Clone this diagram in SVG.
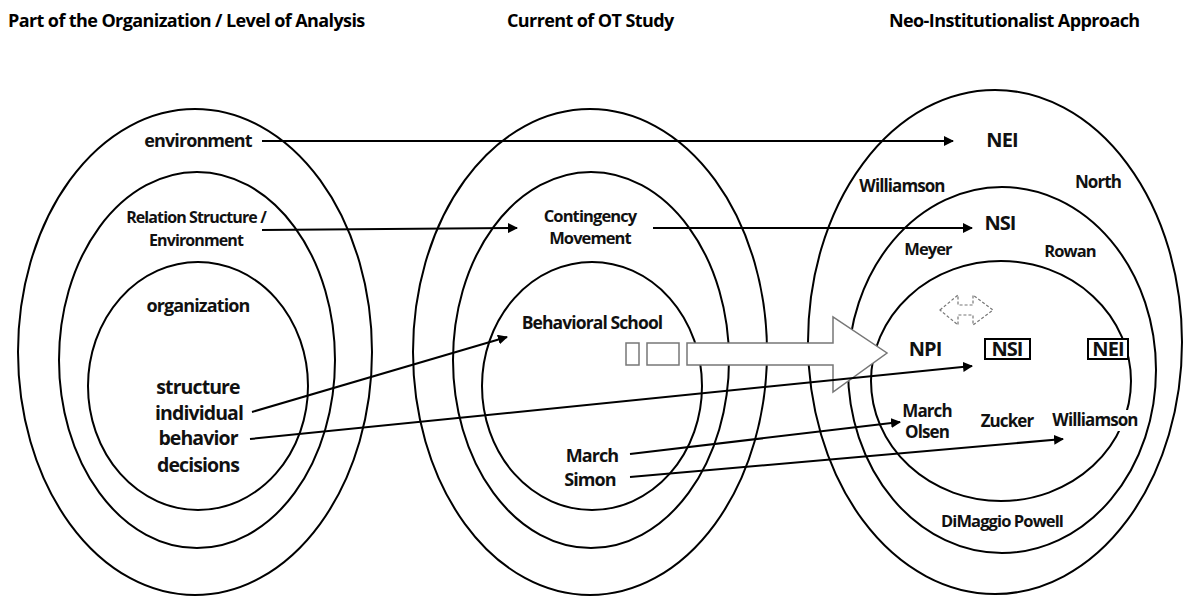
<svg xmlns="http://www.w3.org/2000/svg" width="1195" height="597" viewBox="0 0 1195 597">
<defs>
<marker id="ah" viewBox="0 0 10 10" refX="9" refY="5" markerWidth="5" markerHeight="5" orient="auto" markerUnits="strokeWidth">
<path d="M0,0 L10,5 L0,10 z" fill="#000"/>
</marker>
<style>
.ring{fill:none;stroke:#000;stroke-width:2}
.t{font-family:"Open Sans","Liberation Sans",sans-serif;font-weight:700;fill:#111;text-anchor:middle;letter-spacing:-0.9px}
.h{font-family:"Open Sans","Liberation Sans",sans-serif;font-weight:700;fill:#000;letter-spacing:-0.6px;font-size:18px}
.c{fill:none;stroke:#000;stroke-width:2;marker-end:url(#ah)}
.bg{fill:#fff}
.box{fill:#fff;stroke:#000;stroke-width:2}
.gray{fill:#fff;stroke:#777;stroke-width:1.5}
</style>
</defs>
<rect width="1195" height="597" fill="#fff"/>

<g id="headers">
<text class="h" x="8" y="27">Part of the Organization / Level of Analysis</text>
<text class="h" x="507" y="27">Current of OT Study</text>
<text class="h" x="889" y="27">Neo-Institutionalist Approach</text>
</g>

<g id="level-ellipses">
<ellipse class="ring" cx="195" cy="352" rx="177" ry="243"/>
<ellipse class="ring" cx="197" cy="360" rx="138" ry="188"/>
<ellipse class="ring" cx="198" cy="386" rx="110" ry="124"/>
</g>
<g id="ot-ellipses">
<ellipse class="ring" cx="590" cy="352" rx="177" ry="243"/>
<ellipse class="ring" cx="591" cy="360" rx="138" ry="188"/>
<ellipse class="ring" cx="592" cy="386" rx="110" ry="124"/>
</g>
<g id="ni-ellipses">
<ellipse class="ring" cx="995" cy="342" rx="187" ry="252"/>
<ellipse class="ring" cx="1002" cy="370" rx="154" ry="183"/>
<ellipse class="ring" cx="1001" cy="381" rx="130" ry="120"/>
</g>

<g id="transition-arrow">
<rect class="gray" x="626" y="343" width="13" height="22"/>
<rect class="gray" x="647" y="343" width="32" height="22"/>
<path class="gray" d="M687,343 H833 V317 L887,353 L833,392 V365 H687 Z"/>
</g>

<g id="connectors">
<line class="c" x1="262" y1="141" x2="953" y2="141"/>
<line class="c" x1="262" y1="230" x2="517" y2="228"/>
<line class="c" x1="653" y1="228" x2="972" y2="228"/>
<line class="c" x1="252" y1="412" x2="507" y2="337"/>
<line class="c" x1="250" y1="439" x2="972" y2="366"/>
<line class="c" x1="630" y1="454" x2="900" y2="422"/>
<line class="c" x1="630" y1="477" x2="1063" y2="439"/>
</g>

<g id="dashed-double-arrow">
<path d="M940,310 L958,295 V305 H973 V295 L993,310 L973,325 V315 H958 V325 Z" fill="#fff" stroke="#777" stroke-width="1.2" stroke-dasharray="3,2"/>
</g>

<g id="level-labels">
<text class="t" x="198" y="147" font-size="18">environment</text>
<text class="t" x="196" y="223" font-size="16">Relation Structure /</text>
<text class="t" x="196" y="246" font-size="16">Environment</text>
<text class="t" x="198" y="312" font-size="18">organization</text>
<text class="t" x="198" y="394" font-size="19.5">structure</text>
<text class="t" x="199" y="420" font-size="19.5">individual</text>
<text class="t" x="198" y="445" font-size="19.5">behavior</text>
<text class="t" x="198" y="472" font-size="19.5">decisions</text>
</g>

<g id="ot-labels">
<text class="t" x="590" y="222" font-size="16.5">Contingency</text>
<text class="t" x="590" y="244" font-size="16.5">Movement</text>
<text class="t" x="592" y="329" font-size="17.5">Behavioral School</text>
<text class="t" x="592" y="462" font-size="18">March</text>
<text class="t" x="590" y="486" font-size="18">Simon</text>
</g>

<g id="ni-labels">
<text class="t" x="1002" y="147" font-size="20">NEI</text>
<rect class="bg" x="857" y="176" width="90" height="20"/>
<text class="t" x="902" y="192" font-size="17">Williamson</text>
<text class="t" x="1098" y="188" font-size="17">North</text>
<text class="t" x="1000" y="230" font-size="20">NSI</text>
<text class="t" x="928" y="255" font-size="16.5">Meyer</text>
<text class="t" x="1070" y="257" font-size="16.5">Rowan</text>
<text class="t" x="925" y="356" font-size="20">NPI</text>
<rect class="box" x="985" y="339" width="45" height="20"/>
<text class="t" x="1007" y="356" font-size="20">NSI</text>
<rect class="box" x="1088" y="339" width="40" height="20"/>
<text class="t" x="1108" y="356" font-size="20">NEI</text>
<text class="t" x="927" y="417" font-size="17">March</text>
<text class="t" x="927" y="438" font-size="17">Olsen</text>
<text class="t" x="1007" y="427" font-size="17">Zucker</text>
<rect class="bg" x="1053" y="410" width="86" height="21"/>
<text class="t" x="1095" y="426" font-size="17">Williamson</text>
<text class="t" x="1002" y="527" font-size="16.5">DiMaggio Powell</text>
</g>
</svg>
